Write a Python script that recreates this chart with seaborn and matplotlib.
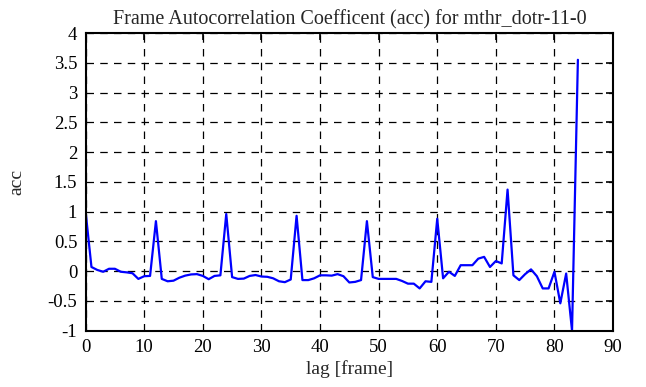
import numpy as np
import pandas as pd
import seaborn as sns
import matplotlib.pyplot as plt
from matplotlib.ticker import FuncFormatter

# Autocorrelation values, lag 0..84
lag = list(range(85))
acc = [1.0, 0.07, 0.02, -0.01, 0.04, 0.04, -0.01, -0.02, -0.035, -0.13,
       -0.085, -0.08, 0.84, -0.13, -0.17, -0.16, -0.11, -0.075, -0.055, -0.05,
       -0.08, -0.135, -0.08, -0.07, 0.96, -0.1, -0.13, -0.125, -0.08, -0.065,
       -0.09, -0.095, -0.12, -0.17, -0.185, -0.14, 0.93, -0.15, -0.15, -0.12,
       -0.07, -0.07, -0.075, -0.05, -0.085, -0.19, -0.18, -0.15, 0.84, -0.1,
       -0.13, -0.13, -0.13, -0.13, -0.165, -0.21, -0.21, -0.29, -0.17, -0.18,
       0.88, -0.12, -0.01, -0.08, 0.1, 0.1, 0.1, 0.21, 0.24, 0.07,
       0.17, 0.13, 1.37, -0.07, -0.15, -0.05, 0.03, -0.085, -0.29, -0.29,
       -0.01, -0.54, -0.04, -1.0, 3.55]

x_ticks = list(range(0, 91, 10))
y_ticks = [-1, -0.5, 0, 0.5, 1, 1.5, 2, 2.5, 3, 3.5, 4]

df = pd.DataFrame({'lag': lag, 'acc': acc})

sns.set_style('white')
plt.rcParams['font.family'] = ['Liberation Serif', 'DejaVu Serif']

fig = plt.figure(figsize=(6.46, 3.87), dpi=100)
ax = fig.add_axes([0.1325, 0.1455, 0.8165, 0.7692])

sns.lineplot(data=df, x='lag', y='acc', ax=ax, color='#0000ff', linewidth=1.6)

ax.set_xlim(0, 90)
ax.set_ylim(-1, 4)
ax.set_xticks(x_ticks)
ax.set_yticks(y_ticks)
ax.yaxis.set_major_formatter(FuncFormatter(lambda v, p: '%g' % v))
ax.tick_params(direction='in', length=5, width=1.2, top=True, right=True,
               labelsize=13.5, colors='black', pad=6)
ax.grid(True, color='black', linestyle=(0, (6, 5)), linewidth=0.9)
for s in ax.spines.values():
    s.set_color('black')
    s.set_linewidth(1.5)

ax.set_title('Frame Autocorrelation Coefficent (acc) for mthr_dotr-11-0',
             fontsize=14.5, pad=6)
ax.set_xlabel('lag [frame]', fontsize=14, labelpad=3)
ax.set_ylabel('acc', fontsize=14, labelpad=16)

fig.savefig('out.png', dpi=100)
